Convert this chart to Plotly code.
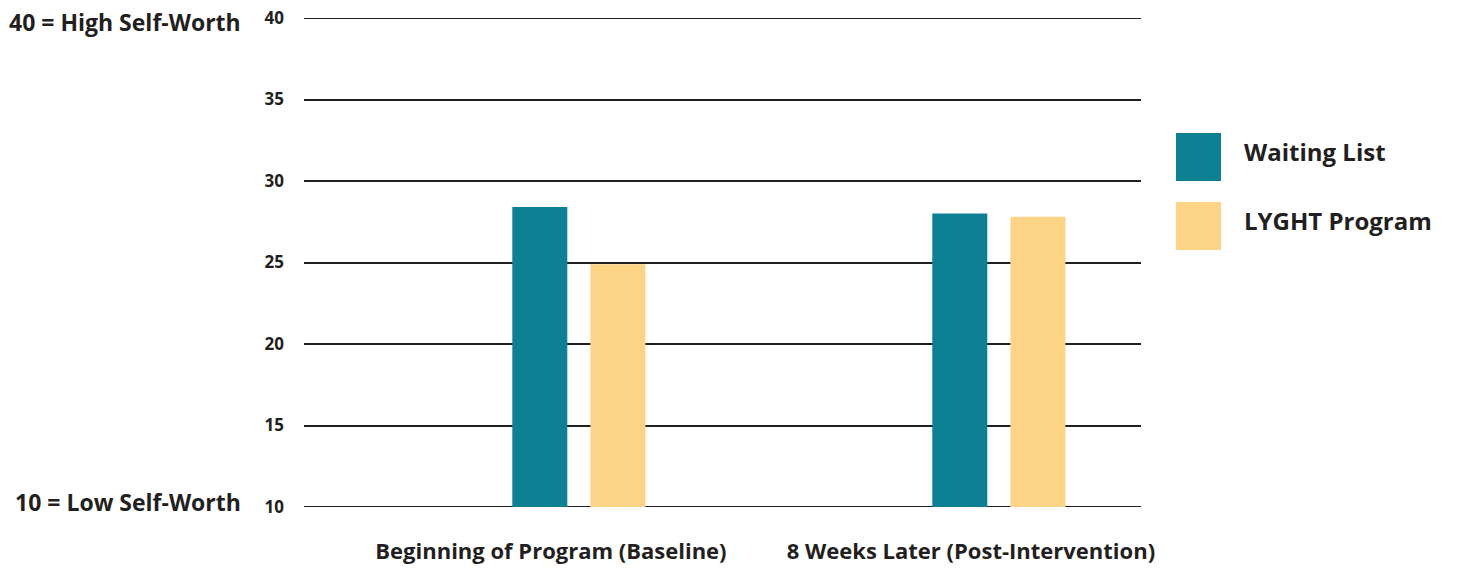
import plotly.graph_objects as go

categories = ["Beginning of Program (Baseline)", "8 Weeks Later (Post-Intervention)"]
waiting_list = [28.4, 28.0]
lyght_program = [24.9, 27.8]
series_names = ["Waiting List", "LYGHT Program"]
y_ticks = [10, 15, 20, 25, 30, 35, 40]

TEAL = "#0D8094"
YELLOW = "#FDD486"
DARK = "#231F20"
FONT = "Open Sans"

fig = go.Figure()
fig.add_trace(go.Bar(x=categories, y=waiting_list, name=series_names[0],
                     marker=dict(color=TEAL, line=dict(width=0)),
                     width=0.131, offset=-0.092, showlegend=False))
fig.add_trace(go.Bar(x=categories, y=lyght_program, name=series_names[1],
                     marker=dict(color=YELLOW, line=dict(width=0)),
                     width=0.131, offset=0.094, showlegend=False))

fig.update_layout(
    width=1460, height=571,
    margin=dict(l=304, r=319, t=18, b=64, autoexpand=False),
    plot_bgcolor="white", paper_bgcolor="white",
    font=dict(family=FONT, color=DARK),
    xaxis=dict(type="category", range=[-0.588, 1.405], showgrid=False, showline=False,
               zeroline=False, ticks="", ticklabelstandoff=29, automargin=False,
               tickfont=dict(family=FONT, size=22, color=DARK, weight="bold")),
    yaxis=dict(range=[10, 40], tickvals=y_ticks, showgrid=True, gridcolor=DARK, gridwidth=1.8,
               zeroline=False, showline=False, ticks="", ticklabelstandoff=19, automargin=False,
               tickfont=dict(family=FONT, size=17, color=DARK, weight="bold")),
)

# Gridlines at the range edges
for yv in (y_ticks[0], y_ticks[-1]):
    fig.add_shape(type="line", xref="paper", yref="y", x0=0, x1=1, y0=yv, y1=yv,
                  line=dict(color=DARK, width=2), layer="below")

# Axis end-point descriptors
fig.add_annotation(text="<b>40 = High Self-Worth</b>", xref="paper", yref="paper", x=0, y=1,
                   xanchor="right", yanchor="middle", xshift=-61, yshift=-4, showarrow=False,
                   font=dict(family=FONT, size=23, color=DARK))
fig.add_annotation(text="<b>10 = Low Self-Worth</b>", xref="paper", yref="paper", x=0, y=0,
                   xanchor="right", yanchor="middle", xshift=-61, yshift=5, showarrow=False,
                   font=dict(family=FONT, size=23, color=DARK))

# Custom legend
legend_colors = [TEAL, YELLOW]
legend_y = [(0.7648, 0.6667), (0.6237, 0.5256)]
legend_text_y = [0.726, 0.5849]
for name, col, (y1, y0), ty in zip(series_names, legend_colors, legend_y, legend_text_y):
    fig.add_shape(type="rect", xref="paper", yref="paper", x0=1.0418, x1=1.0956,
                  y0=y0, y1=y1, fillcolor=col, line=dict(width=0))
    fig.add_annotation(text=f"<b>{name}</b>", xref="paper", yref="paper", x=1.1207,
                       y=ty, xanchor="left", yanchor="middle", showarrow=False,
                       font=dict(family=FONT, size=24, color=DARK))

fig.write_html("out.html")
